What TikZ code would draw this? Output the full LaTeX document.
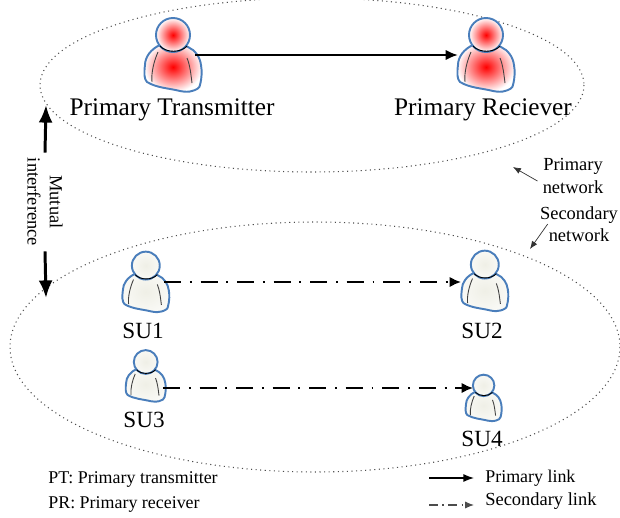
\documentclass[tikz,border=0pt]{standalone}
\usepackage{fontspec}
\usepackage{xcolor}
\setmainfont{Liberation Serif}
\usetikzlibrary{arrows.meta}
\definecolor{userblue}{HTML}{4A7EBB}
\definecolor{userpale}{HTML}{EFEFE6}
\definecolor{useredge}{HTML}{F9F9F5}
\tikzset{
  pics/person/.style 2 args={code={
    \draw [userblue,line width=1.1pt,line join=round,shading=radial,inner color=#1,outer color=#2]
      (-12,-10) .. controls (-21,-6) and (-27,2) .. (-27,10)
      .. controls (-28,18) and (-28,24) .. (-25,27)
      .. controls (-15,33) and (-4,33) .. (8,36)
      .. controls (13,37) and (17,37) .. (20,36)
      .. controls (24,35) and (28,33) .. (28,30)
      .. controls (30,22) and (30,16) .. (29,10)
      .. controls (28,2) and (23,-5) .. (16,-8)
      .. controls (8,-12) and (-4,-13) .. (-12,-10) -- cycle;
    \draw [black!75,line width=0.5pt] (-14,-3) .. controls (-18,6) and (-21,18) .. (-20,27);
    \draw [black!75,line width=0.5pt] (15,3) .. controls (18,10) and (19,20) .. (20,28);
    \draw [userblue,line width=1.1pt,shading=radial,inner color=#1,outer color=#2] (1,-20) circle (17);
    \draw [black,line width=0.5pt] (-12,-9) .. controls (-6,-2) and (9,-2) .. (15,-9);
  }},
  boxnode/.style={minimum height=0pt,inner sep=0pt,outer sep=0pt},
  biglabel/.style={inner sep=0pt,font=\fontsize{14.4}{17}\selectfont},
  sulabel/.style={inner sep=0pt,font=\fontsize{13.2}{15}\selectfont},
  smalllabel/.style={inner sep=0pt,align=center,font=\fontsize{10.5}{12.6}\selectfont},
  keylabel/.style={inner sep=0pt,anchor=west,font=\fontsize{10.2}{12}\selectfont},
  netring/.style={black!70,line width=0.6pt,dotted},
  primarylink/.style={black,line width=1.6pt,-{Latex[length=7pt,width=6pt]}},
  secondarylink/.style={black,line width=1.2pt,dash pattern=on 9.7pt off 5pt on 1.1pt off 5pt,-{Latex[length=6.5pt,width=6pt]}},
  mutualarrow/.style={black,line width=1.7pt,-{Latex[length=10pt,width=8pt]}},
  thinarrow/.style={black!80,line width=0.4pt,-{Latex[length=4.5pt,width=3.5pt]}}
}
\begin{document}
\begin{tikzpicture}[x=0.02cm,y=-0.02cm]
\useasboundingbox (0,0) rectangle (620,518);
% the two networks
\draw [netring] (312,85) ellipse (272 and 87);
\draw [netring] (315,347) ellipse (305 and 125);
% users
\pic at (172,55) {person={red}{white}};
\pic at (485,55) {person={red}{white}};
\pic [scale=0.82] at (145,282) {person={userpale}{useredge}};
\pic [scale=0.82] at (484,281) {person={userpale}{useredge}};
\pic [scale=0.7] at (145,376) {person={userpale}{useredge}};
\pic [scale=0.63] at (483,398) {person={userpale}{useredge}};
\node (pt) [boxnode,minimum width=0.92cm] at (172,55) {};
\node (pr) [boxnode,minimum width=1.08cm] at (485,55) {};
\node (su1) [boxnode,minimum width=0.76cm] at (145,282) {};
\node (su2) [boxnode,minimum width=0.92cm] at (484,282) {};
\node (su3) [boxnode,minimum width=0.72cm] at (145,388) {};
\node (su4) [boxnode,minimum width=0.4cm] at (483,388) {};
\draw [primarylink] (pt) -- (pr);
\draw [secondarylink] (su1) -- (su2);
\draw [secondarylink] (su3) -- (su4);
% labels
\node (ptlabel) [biglabel] at (172,110) {Primary Transmitter};
\node (prlabel) [biglabel] at (483,110) {Primary Reciever};
\node (su1label) [sulabel] at (143,331) {SU1};
\node (su2label) [sulabel] at (482,331) {SU2};
\node (su3label) [sulabel] at (144,420) {SU3};
\node (su4label) [sulabel] at (482,439) {SU4};
% mutual interference
\node (mutual) [smalllabel,rotate=-90,inner xsep=0.1cm] at (45,202) {Mutual\\interference};
\coordinate (mutualtop) at (46,105);
\coordinate (mutualbottom) at (46,298);
\draw [mutualarrow] (mutual.west) -- (mutualtop);
\draw [mutualarrow] (mutual.east) -- (mutualbottom);
% network names
\node (pnet) [smalllabel] at (573,176) {Primary\\network};
\node (snet) [smalllabel] at (579,224) {Secondary\\network};
\coordinate (pnettip) at (513,167);
\coordinate (snettip) at (530,249);
\draw [thinarrow] ([xshift=-0.1cm,yshift=-0.1cm]pnet.west) -- (pnettip);
\draw [thinarrow] ([xshift=0.16cm]snet.west) -- (snettip);
% legend
\node (ptkey) [keylabel] at (48,479) {PT: Primary transmitter};
\node (prkey) [keylabel] at (48,504) {PR: Primary receiver};
\node (plink) [keylabel] at (485,478) {Primary link};
\node (slink) [keylabel,font=\fontsize{10.5}{12}\selectfont] at (485,501) {Secondary link};
\coordinate (plinkstart) at (429,478);
\coordinate (plinkend) at (474,478);
\coordinate (slinkstart) at (429,505);
\coordinate (slinkend) at (474,505);
\draw [black,line width=0.7pt,-{Latex[length=6pt,width=4.5pt]}] (plinkstart) -- (plinkend);
\draw [black!70,line width=0.6pt,dash pattern=on 5pt off 2.5pt on 1pt off 2.5pt,-{Latex[length=5pt,width=4pt]}] (slinkstart) -- (slinkend);
\end{tikzpicture}
\end{document}
